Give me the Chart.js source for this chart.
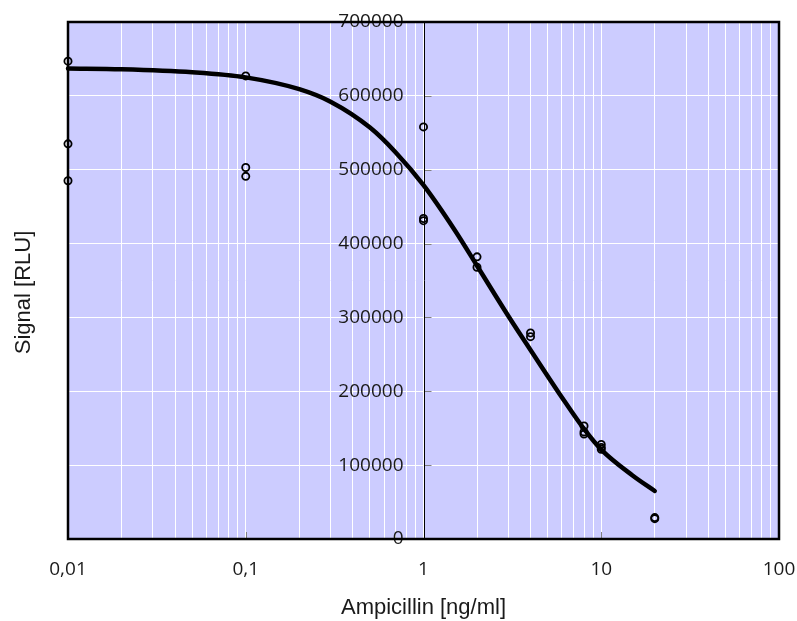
<!DOCTYPE html>
<html>
<head>
<meta charset="utf-8">
<script src="https://cdn.jsdelivr.net/npm/chart.js@4.4.1/dist/chart.umd.min.js"></script>
<style>
  html, body { margin: 0; padding: 0; background: #ffffff; }
  canvas { display: block; }
</style>
</head>
<body>
<canvas id="chart" width="797" height="621"></canvas>
<script>
// Measured signal (RLU) per ampicillin concentration (ng/ml), replicates listed side by side
const concentration = [0.01, 0.01, 0.01, 0.1, 0.1, 0.1, 1, 1, 1, 2, 2, 4, 4, 8, 8, 8, 10, 10, 10, 20, 20];
const signal = [647000, 535000, 485000, 627000, 503000, 491000, 558000, 434000, 431000,
                382000, 368000, 279000, 274000, 153000, 145000, 142000, 128000, 124000, 121500, 29000, 27500];

// Fitted dose-response curve, sampled along the concentration axis
const fitConcentration = [0.01, 0.02, 0.05, 0.1, 0.2, 0.3, 0.5, 0.7, 1, 1.5, 2, 3, 4, 6, 8, 10, 15, 20];
const fitSignal = [637000, 636000, 632000, 625000, 609000, 592000, 557000, 523000, 479000,
                   418000, 370000, 302000, 256000, 192000, 149000, 121000, 86000, 65000];

// Axis ticks
const xDecades = [0.01, 0.1, 1, 10, 100];
const xTickLabels = ['0,01', '0,1', '1', '10', '100'];
const yTicks = [0, 100000, 200000, 300000, 400000, 500000, 600000, 700000];

// The y axis crosses the x axis at 1 ng/ml; its labels sit a little to the left of it
const yAxisCrossing = 1;
const yLabelAnchor = 0.772;

// Log grid: 1..9 within each decade
const xGridValues = [];
for (let i = 0; i < xDecades.length - 1; i++) {
  for (let k = 1; k <= 9; k++) xGridValues.push(k === 1 ? xDecades[i] : k * xDecades[i]);
}
xGridValues.push(xDecades[xDecades.length - 1]);

const pairs = (xs, ys) => xs.map((x, i) => ({ x: x, y: ys[i] }));

const TICK_FONT = { family: 'Open Sans', size: 19 };
const TITLE_FONT = { family: 'Liberation Sans', size: 22 };
const TEXT_COLOR = '#1a1a1a';

// Plot background, frame, y axis line, inner tick marks and the vertical axis title
const plotDecor = {
  id: 'plotDecor',
  beforeDraw(chart) {
    const { ctx, chartArea: a } = chart;
    ctx.save();
    ctx.fillStyle = '#ccccff';
    ctx.fillRect(a.left, a.top, a.right - a.left, a.bottom - a.top);
    ctx.restore();
  },
  beforeDatasetsDraw(chart) {
    const { ctx, chartArea: a, scales } = chart;
    ctx.save();
    ctx.strokeStyle = '#808080';
    ctx.lineWidth = 1;
    xDecades.forEach(v => {
      const px = Math.round(scales.x.getPixelForValue(v)) + 0.5;
      ctx.beginPath();
      ctx.moveTo(px, a.bottom);
      ctx.lineTo(px, a.bottom - 7);
      ctx.stroke();
    });
    const axisX = Math.round(scales.x.getPixelForValue(yAxisCrossing)) + 0.5;
    yTicks.forEach(v => {
      const py = Math.round(scales.y.getPixelForValue(v)) + 0.5;
      ctx.beginPath();
      ctx.moveTo(axisX, py);
      ctx.lineTo(axisX + 7, py);
      ctx.stroke();
    });
    // y axis line
    ctx.strokeStyle = '#000000';
    ctx.beginPath();
    ctx.moveTo(axisX, a.top);
    ctx.lineTo(axisX, a.bottom);
    ctx.stroke();
    // frame
    ctx.lineWidth = 2.5;
    ctx.strokeRect(a.left, a.top, a.right - a.left, a.bottom - a.top);
    ctx.restore();
  },
  afterDraw(chart) {
    const { ctx, chartArea: a } = chart;
    ctx.save();
    ctx.fillStyle = TEXT_COLOR;
    ctx.font = TITLE_FONT.size + 'px "' + TITLE_FONT.family + '"';
    ctx.textAlign = 'center';
    ctx.textBaseline = 'middle';
    ctx.translate(24, (a.top + a.bottom) / 2 + 12);
    ctx.rotate(-Math.PI / 2);
    ctx.fillText('Signal [RLU]', 0, 0);
    ctx.restore();
  }
};

new Chart(document.getElementById('chart'), {
  type: 'scatter',
  data: {
    datasets: [
      {
        label: 'Messwerte',
        data: pairs(concentration, signal),
        showLine: false,
        pointStyle: 'circle',
        pointRadius: 3.6,
        pointBorderWidth: 1.8,
        pointBorderColor: '#000000',
        pointBackgroundColor: 'rgba(0,0,0,0)',
        clip: false,
        order: 1
      },
      {
        label: 'Fit',
        data: pairs(fitConcentration, fitSignal),
        showLine: true,
        borderColor: '#000000',
        borderWidth: 4.5,
        borderCapStyle: 'round',
        borderJoinStyle: 'round',
        cubicInterpolationMode: 'monotone',
        pointRadius: 0,
        fill: false,
        clip: false,
        order: 2
      }
    ]
  },
  options: {
    responsive: false,
    animation: false,
    events: [],
    layout: { padding: { left: 68, top: 22, right: 18, bottom: 0 } },
    plugins: {
      legend: { display: false },
      tooltip: { enabled: false }
    },
    scales: {
      x: {
        type: 'logarithmic',
        position: 'bottom',
        min: 0.01,
        max: 100,
        afterBuildTicks: scale => { scale.ticks = xGridValues.map(v => ({ value: v })); },
        afterFit: scale => {
          scale.height = 82;
          scale.paddingLeft = 0;
          scale.paddingRight = 0;
        },
        grid: { color: '#ffffff', lineWidth: 1, drawTicks: false },
        border: { display: false },
        ticks: {
          autoSkip: false,
          maxRotation: 0,
          padding: 19,
          font: TICK_FONT,
          color: TEXT_COLOR,
          callback: value => {
            const i = xDecades.indexOf(value);
            return i >= 0 ? xTickLabels[i] : '';
          }
        },
        title: {
          display: true,
          text: 'Ampicillin [ng/ml]',
          font: TITLE_FONT,
          color: TEXT_COLOR,
          padding: 0
        }
      },
      y: {
        type: 'linear',
        position: { x: yLabelAnchor },
        min: 0,
        max: 700000,
        afterBuildTicks: scale => { scale.ticks = yTicks.map(v => ({ value: v })); },
        afterFit: scale => {
          scale.width = 0;
          scale.paddingTop = 0;
          scale.paddingBottom = 0;
        },
        grid: { color: '#ffffff', lineWidth: 1, drawTicks: false },
        border: { display: false },
        ticks: {
          padding: 0,
          font: TICK_FONT,
          color: TEXT_COLOR,
          callback: value => String(value)
        }
      }
    }
  },
  plugins: [plotDecor]
});
</script>
</body>
</html>
